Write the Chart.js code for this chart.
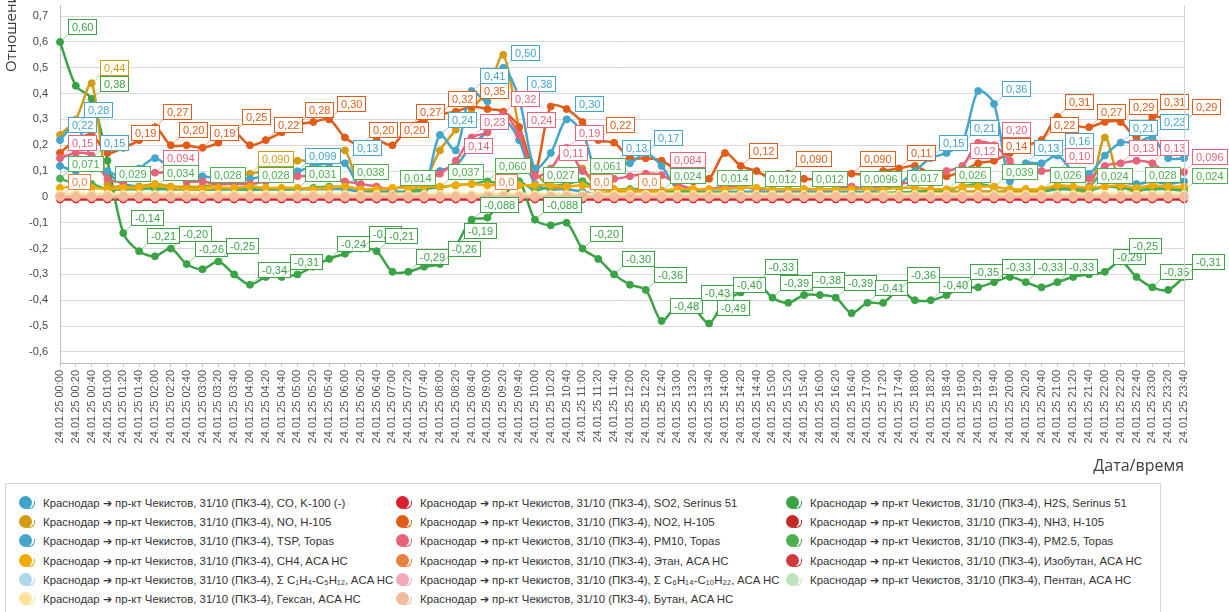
<!DOCTYPE html>
<html>
<head>
<meta charset="utf-8">
<script src="https://cdn.jsdelivr.net/npm/chart.js@4.4.1/dist/chart.umd.min.js"></script>
<style>
  html, body { margin: 0; padding: 0; background: #fff; }
  body { width: 1229px; height: 612px; overflow: hidden; position: relative; font-family: "Liberation Sans", Arial, sans-serif; }
  #chart { position: absolute; left: 0; top: 0; }
  #legend { position: absolute; left: 5px; top: 483px; width: 1156px; height: 140px; border: 1px solid #d6d6d6; box-sizing: border-box; }
  .item { position: absolute; height: 18px; line-height: 18px; font-size: 11.4px; color: #333; white-space: nowrap; }
  .ic { position: absolute; left: 0; top: 1px; width: 20px; height: 16px; }
  .ic b { position: absolute; left: 0; top: 1px; width: 13px; height: 13px; border-radius: 50%; }
  .ic i { position: absolute; left: 8px; top: 6px; width: 7px; height: 7px; border-bottom: 1.5px solid; border-right: 1.5px solid; border-radius: 0 0 6px 0; }
  .txt { position: absolute; left: 24px; top: 0; }
</style>
</head>
<body>
<canvas id="chart" width="1229" height="476"></canvas>
<div id="legend"></div>
<script>
const $ = (id) => document.getElementById(id);

// categories: every 20 minutes of 24.01.25
const timeLabels = [];
for (let m = 0; m < 24 * 60; m += 20) {
  timeLabels.push("24.01.25 " + String(Math.floor(m / 60)).padStart(2, "0") + ":" + String(m % 60).padStart(2, "0"));
}
const yTicks = [-0.6, -0.5, -0.4, -0.3, -0.2, -0.1, 0, 0.1, 0.2, 0.3, 0.4, 0.5, 0.6, 0.7];

const CO = [
  0.12, 0.10, 0.11, 0.09, 0.05, 0.04, 0.03, 0.03, 0.03, 0.03, 0.03, 0.03,
  0.03, 0.03, 0.03, 0.03, 0.03, 0.03, 0.03, 0.02, 0.02, 0.02, 0.02, 0.03,
  0.10, 0.12, 0.20, 0.25, 0.30, 0.22, 0.05, 0.03, 0.03, 0.02, 0.01, 0.01,
  0.01, 0.01, 0.01, 0.01, 0.01, 0.01, 0.01, 0.01, 0.01, 0.01, 0.01, 0.01,
  0.01, 0.01, 0.01, 0.01, 0.01, 0.01, 0.01, 0.02, 0.02, 0.02, 0.02, 0.02,
  0.02, 0.02, 0.02, 0.03, 0.03, 0.04, 0.10, 0.06, 0.05, 0.06, 0.05, 0.06];
const SO2 = [
  -0.01, -0.01, -0.01, -0.01, -0.01, -0.01, -0.01, -0.01, -0.01, -0.01, -0.01, -0.01,
  -0.01, -0.01, -0.01, -0.01, -0.01, -0.01, -0.01, -0.01, -0.01, -0.01, -0.01, -0.01,
  -0.01, -0.01, -0.01, -0.01, -0.01, -0.01, -0.01, -0.01, -0.01, -0.01, -0.01, -0.01,
  -0.01, -0.01, -0.01, -0.01, -0.01, -0.01, -0.01, -0.01, -0.01, -0.01, -0.01, -0.01,
  -0.01, -0.01, -0.01, -0.01, -0.01, -0.01, -0.01, -0.01, -0.01, -0.01, -0.01, -0.01,
  -0.01, -0.01, -0.01, -0.01, -0.01, -0.01, -0.01, -0.01, -0.01, -0.01, -0.01, -0.01];
const H2S = [
  0.60, 0.43, 0.38, 0.14, -0.14, -0.21, -0.23, -0.20, -0.26, -0.28, -0.25, -0.30,
  -0.34, -0.31, -0.31, -0.30, -0.27, -0.24, -0.22, -0.20, -0.21, -0.29, -0.29, -0.27,
  -0.26, -0.19, -0.088, -0.08, 0.0, 0.06, -0.088, -0.11, -0.10, -0.20, -0.24, -0.30,
  -0.34, -0.36, -0.48, -0.42, -0.43, -0.49, -0.40, -0.37, -0.33, -0.39, -0.41, -0.38,
  -0.38, -0.39, -0.45, -0.41, -0.41, -0.36, -0.40, -0.40, -0.38, -0.35, -0.35, -0.33,
  -0.31, -0.33, -0.35, -0.33, -0.31, -0.30, -0.29, -0.25, -0.31, -0.35, -0.36, -0.31];
const NO = [
  0.24, 0.30, 0.44, 0.05, 0.04, 0.04, 0.05, 0.04, 0.04, 0.04, 0.05, 0.07,
  0.090, 0.10, 0.12, 0.14, 0.14, 0.15, 0.18, 0.02, 0.02, 0.02, 0.02, 0.06,
  0.18, 0.26, 0.34, 0.41, 0.55, 0.27, 0.10, 0.04, 0.04, 0.11, 0.02, 0.02,
  0.02, 0.02, 0.02, 0.015, 0.015, 0.015, 0.015, 0.015, 0.015, 0.015, 0.015, 0.015,
  0.015, 0.015, 0.015, 0.015, 0.015, 0.015, 0.015, 0.02, 0.02, 0.02, 0.02, 0.02,
  0.02, 0.02, 0.02, 0.04, 0.03, 0.02, 0.23, 0.05, 0.02, 0.04, 0.03, 0.03];
const NO2 = [
  0.17, 0.22, 0.24, 0.17, 0.19, 0.22, 0.27, 0.20, 0.20, 0.19, 0.21, 0.25,
  0.20, 0.22, 0.25, 0.28, 0.29, 0.30, 0.23, 0.20, 0.22, 0.20, 0.27, 0.30,
  0.32, 0.33, 0.35, 0.34, 0.33, 0.27, 0.10, 0.35, 0.34, 0.29, 0.22, 0.21,
  0.15, 0.15, 0.14, 0.10, 0.06, 0.07, 0.17, 0.12, 0.10, 0.07, 0.090, 0.07,
  0.07, 0.08, 0.090, 0.085, 0.10, 0.11, 0.12, 0.09, 0.08, 0.10, 0.13, 0.14,
  0.17, 0.20, 0.22, 0.31, 0.28, 0.27, 0.29, 0.29, 0.23, 0.31, 0.30, 0.29];
const NH3 = [
  0, 0, 0, 0, 0, 0, 0, 0, 0, 0, 0, 0,
  0, 0, 0, 0, 0, 0, 0, 0, 0, 0, 0, 0,
  0, 0, 0, 0, 0, 0, 0, 0, 0, 0, 0, 0,
  0, 0, 0, 0, 0, 0, 0, 0, 0, 0, 0, 0,
  0, 0, 0, 0, 0, 0, 0, 0, 0, 0, 0, 0,
  0, 0, 0, 0, 0, 0, 0, 0, 0, 0, -0.006, -0.006];
const TSP = [
  0.22, 0.28, 0.15, 0.10, 0.08, 0.11, 0.15, 0.11, 0.07, 0.08, 0.07, 0.06,
  0.07, 0.08, 0.09, 0.099, 0.12, 0.13, 0.13, 0.03, 0.02, 0.02, 0.02, 0.03,
  0.24, 0.18, 0.41, 0.37, 0.50, 0.38, 0.11, 0.17, 0.30, 0.25, 0.08, 0.13,
  0.13, 0.17, 0.12, 0.03, 0.02, 0.02, 0.02, 0.02, 0.02, 0.02, 0.02, 0.02,
  0.02, 0.02, 0.02, 0.02, 0.03, 0.05, 0.10, 0.15, 0.17, 0.21, 0.41, 0.36,
  0.06, 0.13, 0.13, 0.16, 0.10, 0.09, 0.16, 0.21, 0.21, 0.23, 0.15, 0.15];
const PM10 = [
  0.15, 0.17, 0.16, 0.07, 0.06, 0.08, 0.094, 0.09, 0.06, 0.06, 0.05, 0.05,
  0.05, 0.06, 0.07, 0.08, 0.08, 0.08, 0.06, 0.05, 0.04, 0.03, 0.05, 0.06,
  0.09, 0.14, 0.23, 0.25, 0.32, 0.24, 0.08, 0.11, 0.19, 0.10, 0.07, 0.07,
  0.08, 0.09, 0.084, 0.05, 0.03, 0.03, 0.04, 0.04, 0.03, 0.03, 0.03, 0.03,
  0.03, 0.03, 0.04, 0.03, 0.04, 0.05, 0.06, 0.07, 0.10, 0.12, 0.21, 0.20,
  0.14, 0.08, 0.10, 0.10, 0.08, 0.07, 0.12, 0.13, 0.14, 0.13, 0.09, 0.096];
const PM25 = [
  0.071, 0.05, 0.05, 0.029, 0.03, 0.03, 0.034, 0.03, 0.03, 0.028, 0.03, 0.03,
  0.028, 0.03, 0.03, 0.031, 0.035, 0.04, 0.038, 0.03, 0.02, 0.014, 0.02, 0.03,
  0.037, 0.045, 0.05, 0.060, 0.05, 0.06, 0.027, 0.04, 0.05, 0.061, 0.03, 0.03,
  0.03, 0.03, 0.024, 0.02, 0.02, 0.014, 0.015, 0.015, 0.012, 0.012, 0.012, 0.012,
  0.01, 0.01, 0.0096, 0.01, 0.015, 0.017, 0.02, 0.025, 0.026, 0.04, 0.05, 0.039,
  0.03, 0.03, 0.026, 0.03, 0.03, 0.024, 0.04, 0.035, 0.028, 0.03, 0.03, 0.024];
const CH4 = [
  0.035, 0.04, 0.035, 0.03, 0.035, 0.035, 0.045, 0.035, 0.03, 0.03, 0.035, 0.035,
  0.04, 0.035, 0.035, 0.035, 0.03, 0.035, 0.04, 0.03, 0.03, 0.035, 0.035, 0.04,
  0.04, 0.045, 0.05, 0.045, 0.045, 0.045, 0.045, 0.045, 0.04, 0.045, 0.03, 0.03,
  0.025, 0.025, 0.025, 0.03, 0.03, 0.03, 0.03, 0.035, 0.035, 0.03, 0.03, 0.03,
  0.03, 0.03, 0.03, 0.03, 0.03, 0.035, 0.035, 0.03, 0.03, 0.04, 0.04, 0.04,
  0.03, 0.03, 0.03, 0.045, 0.04, 0.035, 0.04, 0.045, 0.035, 0.045, 0.04, 0.04];
const ETHANE = [
  0, 0, 0, 0, 0, 0, 0, 0, 0, 0, 0, 0,
  0, 0, 0, 0, 0, 0, 0, 0, 0, 0, 0, 0,
  0, 0, 0, 0, 0, 0, 0, 0, 0, 0, 0, 0,
  0, 0, 0, 0, 0, 0, 0, 0, 0, 0, 0, 0,
  0, 0, 0, 0, 0, 0, 0, 0, 0, 0, 0, 0,
  0, 0, 0, 0, 0, 0, 0, 0, 0, 0, 0, 0];
const ISOBUTANE = [
  0, 0, 0, 0, 0, 0, 0, 0, 0, 0, 0, 0,
  0, 0, 0, 0, 0, 0, 0, 0, 0, 0, 0, 0,
  0, 0, 0, 0, 0, 0, 0, 0, 0, 0, 0, 0,
  0, 0, 0, 0, 0, 0, 0, 0, 0, 0, 0, 0,
  0, 0, 0, 0, 0, 0, 0, 0, 0, 0, 0, 0,
  0, 0, 0, 0, 0, 0, 0, 0, 0, 0, 0, 0];
const SUM_C1_C5 = [
  0.008, 0.008, 0.008, 0.008, 0.008, 0.008, 0.008, 0.008, 0.008, 0.008, 0.008, 0.008,
  0.008, 0.008, 0.008, 0.008, 0.008, 0.008, 0.008, 0.008, 0.008, 0.008, 0.008, 0.008,
  0.008, 0.008, 0.008, 0.008, 0.008, 0.008, 0.008, 0.008, 0.008, 0.008, 0.008, 0.008,
  0.008, 0.008, 0.008, 0.008, 0.008, 0.008, 0.008, 0.008, 0.008, 0.008, 0.008, 0.008,
  0.008, 0.008, 0.008, 0.008, 0.008, 0.008, 0.008, 0.008, 0.008, 0.008, 0.008, 0.008,
  0.008, 0.008, 0.008, 0.008, 0.008, 0.008, 0.008, 0.008, 0.008, 0.008, 0.008, 0.008];
const SUM_C6_C10 = [
  0.004, 0.004, 0.004, 0.004, 0.004, 0.004, 0.004, 0.004, 0.004, 0.004, 0.004, 0.004,
  0.004, 0.004, 0.004, 0.004, 0.004, 0.004, 0.004, 0.004, 0.004, 0.004, 0.004, 0.004,
  0.004, 0.004, 0.004, 0.004, 0.004, 0.004, 0.004, 0.004, 0.004, 0.004, 0.004, 0.004,
  0.004, 0.004, 0.004, 0.004, 0.004, 0.004, 0.004, 0.004, 0.004, 0.004, 0.004, 0.004,
  0.004, 0.004, 0.004, 0.004, 0.004, 0.004, 0.004, 0.004, 0.004, 0.004, 0.004, 0.004,
  0.004, 0.004, 0.004, 0.004, 0.004, 0.004, 0.004, 0.004, 0.004, 0.004, 0.004, 0.004];
const PENTANE = [
  0.002, 0.002, 0.002, 0.002, 0.002, 0.002, 0.002, 0.002, 0.002, 0.002, 0.002, 0.002,
  0.002, 0.002, 0.002, 0.002, 0.002, 0.002, 0.002, 0.002, 0.002, 0.002, 0.002, 0.002,
  0.002, 0.002, 0.002, 0.002, 0.002, 0.002, 0.002, 0.002, 0.002, 0.002, 0.002, 0.002,
  0.002, 0.002, 0.002, 0.002, 0.002, 0.002, 0.002, 0.002, 0.002, 0.002, 0.002, 0.002,
  0.002, 0.002, 0.002, 0.002, 0.002, 0.002, 0.002, 0.002, 0.002, 0.002, 0.002, 0.002,
  0.002, 0.002, 0.002, 0.002, 0.002, 0.002, 0.002, 0.002, 0.002, 0.002, 0.002, 0.002];
const HEXANE = [
  0.012, 0.012, 0.012, 0.012, 0.012, 0.012, 0.012, 0.012, 0.012, 0.012, 0.012, 0.012,
  0.012, 0.012, 0.012, 0.012, 0.012, 0.012, 0.012, 0.012, 0.012, 0.012, 0.012, 0.012,
  0.012, 0.012, 0.012, 0.012, 0.012, 0.012, 0.012, 0.012, 0.012, 0.012, 0.012, 0.012,
  0.012, 0.012, 0.012, 0.012, 0.012, 0.012, 0.012, 0.012, 0.012, 0.012, 0.012, 0.012,
  0.012, 0.012, 0.012, 0.012, 0.012, 0.012, 0.012, 0.012, 0.012, 0.012, 0.012, 0.012,
  0.012, 0.012, 0.012, 0.012, 0.012, 0.012, 0.012, 0.012, 0.012, 0.012, 0.012, 0.012];
const BUTANE = [
  0, 0, 0, 0, 0, 0, 0, 0, 0, 0, 0, 0,
  0, 0, 0, 0, 0, 0, 0, 0, 0, 0, 0, 0,
  0, 0, 0, 0, 0, 0, 0, 0, 0, 0, 0, 0,
  0, 0, 0, 0, 0, 0, 0, 0, 0, 0, 0, 0,
  0, 0, 0, 0, 0, 0, 0, 0, 0, 0, 0, 0,
  0, 0, 0, 0, 0, 0, 0, 0, 0, 0, 0, 0];

// which points carry a value label
const LBL_H2S = [0, 2, 4, 5, 7, 8, 10, 12, 14, 17, 19, 20, 22, 24, 25, 26, 30, 33, 35, 37, 38, 40, 41, 42, 44, 45, 47, 49, 51, 53, 55, 57, 59, 61, 63, 66, 67, 69, 71];
const LBL_NO2 = [4, 6, 7, 9, 11, 13, 15, 17, 19, 21, 22, 24, 26, 34, 43, 46, 50, 53, 59, 62, 63, 65, 67, 69, 71];
const LBL_TSP = [0, 1, 2, 15, 18, 24, 26, 28, 29, 32, 35, 37, 55, 57, 59, 61, 63, 67, 69];
const LBL_PM10 = [0, 6, 25, 26, 28, 29, 31, 32, 38, 57, 59, 63, 67, 69, 71];
const LBL_PM25 = [0, 3, 6, 9, 12, 15, 18, 21, 24, 27, 30, 33, 38, 41, 44, 47, 50, 53, 56, 59, 62, 65, 68, 71];
const LBL_NO = [2, 12];
const LBL_ETHANE = [0, 27, 33, 36];

const PREFIX = "Краснодар ➔ пр-кт Чекистов, 31/10 (ПКЗ-4), ";

const SERIES = [
  ["CO, K-100 (-)", CO, "#3ea2c9", null],
  ["SO2, Serinus 51", SO2, "#d9202f", null],
  ["H2S, Serinus 51", H2S, "#3aa346", LBL_H2S],
  ["NO, H-105", NO, "#d39c14", LBL_NO],
  ["NO2, H-105", NO2, "#e05c18", LBL_NO2],
  ["NH3, H-105", NH3, "#c42a2a", null],
  ["TSP, Topas", TSP, "#45a6cb", LBL_TSP],
  ["PM10, Topas", PM10, "#e6637a", LBL_PM10],
  ["PM2.5, Topas", PM25, "#4caf50", LBL_PM25],
  ["CH4, ACA HC", CH4, "#f2aa00", null],
  ["Этан, ACA HC", ETHANE, "#e8803f", LBL_ETHANE],
  ["Изобутан, ACA HC", ISOBUTANE, "#cf3b3b", null],
  ["Σ C₁H₄-C₅H₁₂, ACA HC", SUM_C1_C5, "#acd7e9", null],
  ["Σ C₆H₁₄-C₁₀H₂₂, ACA HC", SUM_C6_C10, "#f4a8b9", null],
  ["Пентан, ACA HC", PENTANE, "#bfe2bf", null],
  ["Гексан, ACA HC", HEXANE, "#ffe39b", null],
  ["Бутан, ACA HC", BUTANE, "#f2bb9b", null],
];

const fmt = (v) => v.toPrecision(2).replace(".", ",");

const datasets = SERIES.map(([name, data, color, lbl], i) => ({
  label: PREFIX + name,
  data,
  borderColor: color,
  backgroundColor: color,
  pointBackgroundColor: color,
  pointBorderColor: color,
  borderWidth: 2.5,
  pointRadius: i === SERIES.length - 1 ? 4.5 : 3.5,
  pointBorderWidth: 1,
  tension: 0.3,
  clip: false,
  order: SERIES.length - 1 - i,
  labelAt: lbl,
}));

const valueLabels = {
  id: "valueLabels",
  afterDatasetsDraw(chart) {
    const ctx = chart.ctx;
    ctx.save();
    ctx.font = '11px "Liberation Sans", Arial, sans-serif';
    ctx.textBaseline = "middle";
    chart.data.datasets.forEach((ds, di) => {
      if (!ds.labelAt) return;
      const meta = chart.getDatasetMeta(di);
      for (const idx of ds.labelAt) {
        const pt = meta.data[idx];
        const txt = fmt(ds.data[idx]);
        const w = Math.round(ctx.measureText(txt).width) + 8, h = 16;
        const bx = Math.round(pt.x + 8), by = Math.round(pt.y - 23);
        ctx.strokeStyle = ds.borderColor;
        ctx.globalAlpha = 0.55;
        ctx.lineWidth = 1;
        ctx.beginPath();
        ctx.moveTo(pt.x, pt.y);
        ctx.lineTo(bx, by + h);
        ctx.stroke();
        ctx.globalAlpha = 1;
        ctx.fillStyle = "#fff";
        ctx.fillRect(bx, by, w, h);
        ctx.strokeRect(bx + 0.5, by + 0.5, w - 1, h - 1);
        ctx.fillStyle = ds.borderColor;
        ctx.fillText(txt, bx + 4, by + h / 2 + 0.5);
      }
    });
    ctx.restore();
  },
};

const frame = {
  id: "frame",
  afterDraw(chart) {
    const { ctx, chartArea: a } = chart;
    ctx.save();
    ctx.strokeStyle = "#d0d0d0";
    ctx.lineWidth = 1;
    ctx.beginPath();
    ctx.moveTo(a.right + 0.5, a.top);
    ctx.lineTo(a.right + 0.5, a.bottom);
    ctx.stroke();
    // y axis title, running off the top edge like the original
    ctx.translate(12, 72);
    ctx.rotate(-Math.PI / 2);
    ctx.fillStyle = "#404040";
    ctx.font = '15px "Open Sans", sans-serif';
    ctx.textBaseline = "middle";
    ctx.textAlign = "left";
    ctx.fillText("Отношение", 0, 0);
    ctx.restore();
  },
};

new Chart($("chart"), {
  type: "line",
  data: { labels: timeLabels, datasets },
  plugins: [valueLabels, frame],
  options: {
    responsive: false,
    animation: false,
    events: [],
    layout: { padding: { left: 0, right: 45, top: 0, bottom: 0 } },
    plugins: { legend: { display: false }, tooltip: { enabled: false } },
    scales: {
      x: {
        offset: false,
        grid: { display: true, drawOnChartArea: false, drawTicks: true, tickLength: 4, color: "#c8c8c8" },
        border: { color: "#bdbdbd" },
        ticks: {
          autoSkip: false, maxRotation: 90, minRotation: 90, padding: 3,
          color: "#555", font: { family: '"Liberation Sans", Arial, sans-serif', size: 11 },
        },
        title: {
          display: true, text: "Дата/время", align: "end", color: "#404040",
          font: { family: '"Open Sans", sans-serif', size: 16 }, padding: { top: 0, bottom: 0 },
        },
        afterFit(s) { s.height = 113; s.paddingLeft = 0; s.paddingRight = 0; },
      },
      y: {
        min: -0.643,
        max: 0.741,
        afterBuildTicks(s) { s.ticks = yTicks.map((v) => ({ value: v })); },
        grid: { color: "#dadada", drawTicks: false },
        border: { color: "#bdbdbd" },
        ticks: {
          padding: 12, color: "#444",
          font: { family: '"Liberation Sans", Arial, sans-serif', size: 11 },
          callback: (v) => (v === 0 ? "0" : v.toFixed(1).replace(".", ",")),
        },
        afterFit(s) { s.width = 60; s.paddingTop = 0; s.paddingBottom = 0; },
      },
    },
  },
});

// legend, three columns filled row by row
const legend = $("legend");
SERIES.forEach(([name, , color], i) => {
  const col = i % 3, row = Math.floor(i / 3);
  const item = document.createElement("div");
  item.className = "item";
  item.style.left = [13, 390, 780][col] + "px";
  item.style.top = (10 + row * 19.2) + "px";
  item.innerHTML = `<span class="ic"><b style="background:${color}"></b><i style="border-color:${color}"></i></span><span class="txt"></span>`;
  item.querySelector(".txt").textContent = PREFIX + name;
  legend.appendChild(item);
});
</script>
</body>
</html>
